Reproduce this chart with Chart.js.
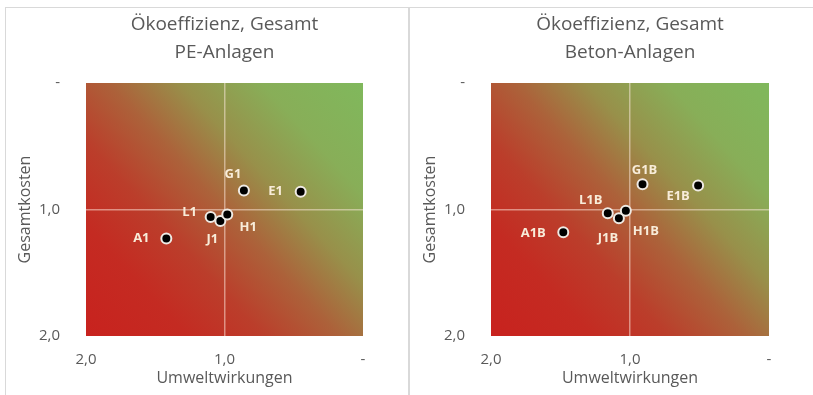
<!DOCTYPE html>
<html>
<head>
<meta charset="utf-8">
<script src="https://cdn.jsdelivr.net/npm/chart.js@4.4.1/dist/chart.umd.min.js"></script>
<style>
  body { margin: 0; background: #fff; width: 813px; height: 395px; overflow: hidden; position: relative; }
  .frame { position: absolute; top: 7px; height: 400px; border: 1px solid #d9d9d9; box-sizing: border-box; }
  canvas { position: absolute; top: 0; }
</style>
</head>
<body>
<div class="frame" style="left:5px;width:404px"></div>
<div class="frame" style="left:409px;width:410px"></div>
<canvas id="peChart" width="408" height="395" style="left:0"></canvas>
<canvas id="betonChart" width="408" height="395" style="left:405px"></canvas>
<script>
const mainTitle = 'Ökoeffizienz, Gesamt';
const xTitle = 'Umweltwirkungen';
const yTitle = 'Gesamtkosten';

const peNames = ['G1', 'E1', 'L1', 'J1', 'H1', 'A1'];
const peUmwelt = [0.86, 0.45, 1.10, 1.03, 0.98, 1.42];
const peKosten = [0.85, 0.86, 1.06, 1.09, 1.04, 1.23];

const betonNames = ['G1B', 'E1B', 'L1B', 'J1B', 'H1B', 'A1B'];
const betonUmwelt = [0.91, 0.51, 1.16, 1.08, 1.03, 1.48];
const betonKosten = [0.80, 0.81, 1.03, 1.07, 1.01, 1.18];

const axisMin = 0;
const axisMax = 2;

// where each name sits next to its point (px)
const peLabelOffsets = [[-11, -16], [-25, 0], [-21, -5], [-8, 18], [21, 13], [-25, 0]];
const betonLabelOffsets = [[2, -14], [-20, 11], [-17, -13], [-11, 20], [20, 21], [-30, 1]];

const grey = '#595959';
const fontFamily = '"Open Sans", sans-serif';

const fmt = v => v === 0 ? '-' : v.toFixed(1).replace('.', ',');

const gradientBg = {
  id: 'gradientBg',
  beforeDraw(chart) {
    const { ctx, chartArea: a } = chart;
    const g = ctx.createLinearGradient(a.right, a.top, a.left, a.bottom);
    g.addColorStop(0, '#80b85c');
    g.addColorStop(0.2, '#88ae58');
    g.addColorStop(0.36, '#98904a');
    g.addColorStop(0.5, '#ac623a');
    g.addColorStop(0.65, '#bb3e2b');
    g.addColorStop(0.8, '#c42b22');
    g.addColorStop(1, '#c8221e');
    ctx.save();
    ctx.fillStyle = g;
    ctx.fillRect(a.left, a.top, a.right - a.left, a.bottom - a.top);
    ctx.restore();
  }
};

// two-line heading centred over the plot area
const heading = {
  id: 'heading',
  afterDraw(chart, args, opts) {
    const { ctx, chartArea: a } = chart;
    const cx = (a.left + a.right) / 2;
    ctx.save();
    ctx.font = '19px ' + fontFamily;
    ctx.fillStyle = grey;
    ctx.textAlign = 'center';
    ctx.textBaseline = 'middle';
    ctx.fillText(mainTitle, cx, 25);
    ctx.fillText(opts.subtitle, cx, 53);
    ctx.restore();
  }
};

const pointNames = {
  id: 'pointNames',
  afterDatasetsDraw(chart, args, opts) {
    const { ctx } = chart;
    const meta = chart.getDatasetMeta(0);
    ctx.save();
    ctx.font = 'bold 13px ' + fontFamily;
    ctx.fillStyle = '#f8ecd9';
    ctx.textAlign = 'center';
    ctx.textBaseline = 'middle';
    meta.data.forEach((pt, i) => {
      const off = opts.offsets[i];
      ctx.fillText(opts.names[i], pt.x + off[0], pt.y + off[1]);
    });
    ctx.restore();
  }
};

function renderPanel(id, subtitle, names, xs, ys, offsets, padRight) {
  const data = xs.map((x, i) => ({ x, y: ys[i] }));
  const gridColor = c => c.tick && c.tick.value === 1 ? 'rgba(255,235,225,0.5)' : 'transparent';
  return new Chart(document.getElementById(id), {
    type: 'scatter',
    data: {
      datasets: [{
        data,
        pointRadius: 5,
        pointHoverRadius: 5,
        pointBackgroundColor: '#000',
        pointBorderColor: '#efeae4',
        pointBorderWidth: 2
      }]
    },
    options: {
      responsive: false,
      animation: false,
      events: [],
      layout: { padding: { left: 0, right: padRight, top: 83, bottom: 0 } },
      plugins: {
        legend: { display: false },
        tooltip: { enabled: false },
        title: { display: false },
        heading: { subtitle },
        pointNames: { names, offsets }
      },
      scales: {
        x: {
          type: 'linear',
          reverse: true,
          min: axisMin,
          max: axisMax,
          ticks: { stepSize: 1, color: grey, font: { family: fontFamily, size: 15 }, padding: 15, callback: fmt },
          grid: { drawTicks: false, lineWidth: 1.5, color: gridColor },
          border: { display: false },
          title: { display: true, text: xTitle, color: grey, font: { family: fontFamily, size: 16 }, padding: { top: 0, bottom: 7 } },
          afterFit: s => { s.height = 59; }
        },
        y: {
          type: 'linear',
          reverse: true,
          min: axisMin,
          max: axisMax,
          ticks: { stepSize: 1, color: grey, font: { family: fontFamily, size: 15 }, padding: 26, callback: fmt },
          grid: { drawTicks: false, lineWidth: 1.5, color: gridColor },
          border: { display: false },
          title: { display: true, text: yTitle, color: grey, font: { family: fontFamily, size: 16 }, padding: { top: 16, bottom: 0 } },
          afterFit: s => { s.width = 86; }
        }
      }
    },
    plugins: [gradientBg, heading, pointNames]
  });
}

renderPanel('peChart', 'PE-Anlagen', peNames, peUmwelt, peKosten, peLabelOffsets, 45);
renderPanel('betonChart', 'Beton-Anlagen', betonNames, betonUmwelt, betonKosten, betonLabelOffsets, 44);
</script>
</body>
</html>
